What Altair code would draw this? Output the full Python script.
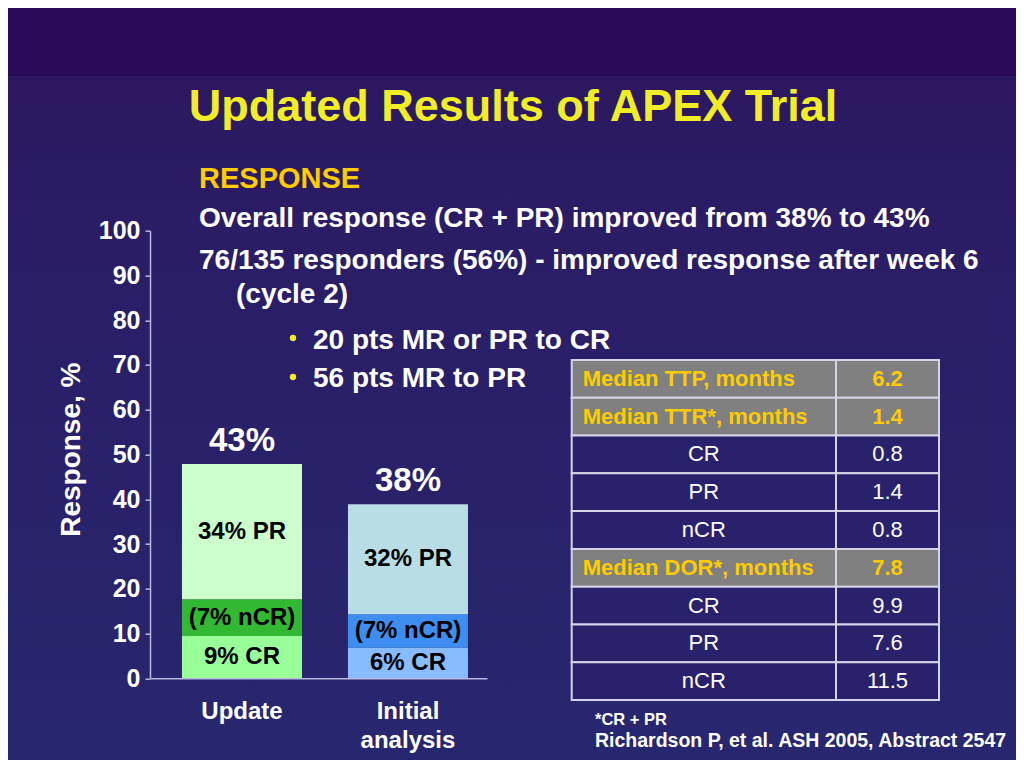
import altair as alt
import pandas as pd

# ---------------- data ----------------
categories = ["Update", "Initial analysis"]
cr_values = [9.45, 6.9]
ncr_values = [8.2, 7.4]
pr_values = [30.25, 24.6]
cr_labels = ["9% CR", "6% CR"]
ncr_labels = ["(7% nCR)", "(7% nCR)"]
pr_labels = ["34% PR", "32% PR"]
total_labels = ["43%", "38%"]
y_ticks = [0, 10, 20, 30, 40, 50, 60, 70, 80, 90, 100]

table_labels = ["Median TTP, months", "Median TTR*, months", "CR", "PR", "nCR",
                "Median DOR*, months", "CR", "PR", "nCR"]
table_values = ["6.2", "1.4", "0.8", "1.4", "0.8", "7.8", "9.9", "7.6", "11.5"]
table_header = [True, True, False, False, False, True, False, False, False]

title_text = "Updated Results of APEX Trial"
heading_text = "RESPONSE"
body_lines = ["Overall response (CR + PR) improved from 38% to 43%",
              "76/135 responders (56%) - improved response after week 6",
              "(cycle 2)"]
bullet_lines = ["20 pts MR or PR to CR", "56 pts MR to PR"]
footnote_text = "*CR + PR"
citation_text = "Richardson P, et al. ASH 2005, Abstract 2547"

FONT = "Liberation Sans, Arial, Helvetica, sans-serif"
WHITE = "#ffffff"
GOLD = "#ffcc00"
YELLOW = "#f2ee26"
AXIS_COL = "#b8b8e0"

# plot origin in page coordinates
OX, OY = 150, 230.7
def px(X):
    return X - OX
def py(Y):
    return Y - OY

# ---------------- bar data ----------------
rows = []
for i, c in enumerate(categories):
    for order, (seg, vals, labs) in enumerate([("CR", cr_values, cr_labels),
                                               ("nCR", ncr_values, ncr_labels),
                                               ("PR", pr_values, pr_labels)]):
        rows.append({"category": c, "segment": seg, "key": f"{c}|{seg}",
                     "value": vals[i], "label": labs[i], "order": order,
                     "total_label": total_labels[i]})
bars_df = pd.DataFrame(rows)

color_domain = [f"{c}|{s}" for c in categories for s in ["CR", "nCR", "PR"]]
color_range = ["#99ff99", "#33b833", "#ccffcc", "#88bbff", "#3d8ef0", "#b9dde5"]

x_scale = alt.Scale(domain=categories, paddingInner=0.277, paddingOuter=0.1536, align=0.627)
x_axis = alt.Axis(title=None, labelAngle=0, ticks=False, tickSize=0, labelPadding=21,
                  labelColor=WHITE, labelFont=FONT, labelFontSize=24, labelFontWeight="bold",
                  labelLineHeight=29.5, labelExpr="split(datum.label, ' ')",
                  domainColor=AXIS_COL, domainWidth=1.5, zindex=1)
y_scale = alt.Scale(domain=[0, 100], nice=False, zero=True)
y_axis = alt.Axis(values=y_ticks, grid=False, tickSize=5, tickWidth=1.5, tickColor=AXIS_COL,
                  domainColor=AXIS_COL, domainWidth=1.5, labelColor=WHITE, labelFont=FONT,
                  labelFontSize=25, labelFontWeight="bold", labelPadding=5,
                  title="Response, %", titleFont=FONT, titleFontSize=28, titleFontWeight="bold",
                  titleColor=WHITE, titleAngle=270, titleX=-71, titleY=218.5,
                  titleAlign="center", titleBaseline="alphabetic", zindex=1)

def xenc():
    return alt.X("category:N", sort=categories, scale=x_scale, axis=x_axis)

base = alt.Chart(bars_df).transform_stack(
    stack="value", groupby=["category"],
    sort=[alt.SortField("order", order="ascending")], as_=["y0", "y1"])

bars = base.mark_bar().encode(
    x=xenc(),
    y=alt.Y("y0:Q", scale=y_scale, axis=y_axis),
    y2="y1:Q",
    color=alt.Color("key:N", scale=alt.Scale(domain=color_domain, range=color_range), legend=None),
)

seg_text = base.transform_calculate(mid="(datum.y0 + datum.y1) / 2").mark_text(
    font=FONT, fontSize=24, fontWeight="bold", color="#000000", baseline="middle"
).encode(
    x=xenc(),
    y=alt.Y("mid:Q", scale=y_scale, axis=y_axis),
    text="label:N",
)

tot_text = alt.Chart(bars_df).transform_aggregate(
    total="sum(value)", groupby=["category", "total_label"]
).mark_text(font=FONT, fontSize=33, fontWeight="bold", color=WHITE,
            baseline="alphabetic", dy=-13).encode(
    x=xenc(),
    y=alt.Y("total:Q", scale=y_scale, axis=y_axis),
    text="total_label:N",
)

bar_layer = alt.layer(bars, seg_text, tot_text)

# ---------------- table ----------------
trows = []
for r in range(len(table_labels)):
    for col, txt_ in enumerate([table_labels[r], table_values[r]]):
        trows.append({"row": r, "col": col, "text": txt_, "header": table_header[r]})
table_df = pd.DataFrame(trows)

tx_scale = alt.Scale(domain=[0, 1, 2], range=[px(571.7), px(836), px(939)], nice=False, zero=False)
ty_scale = alt.Scale(domain=[0, 9], range=[py(360), py(700)], nice=False, zero=False)

tbase = alt.Chart(table_df).transform_calculate(
    c1="datum.col + 1", r1="datum.row + 1", cx="datum.col + 0.5", cy="datum.row + 0.5")

cells = tbase.mark_rect(stroke="#d4d4e4", strokeWidth=2).encode(
    x=alt.X("col:Q", scale=tx_scale, axis=None),
    x2="c1:Q",
    y=alt.Y("row:Q", scale=ty_scale, axis=None),
    y2="r1:Q",
    fill=alt.condition("datum.header", alt.value("#808080"), alt.value("#29216c")),
)

hdr_label = tbase.transform_filter("datum.header && datum.col == 0").mark_text(
    font=FONT, fontSize=22, fontWeight="bold", color=GOLD, align="left", baseline="middle", dx=11
).encode(
    x=alt.X("col:Q", scale=tx_scale, axis=None),
    y=alt.Y("cy:Q", scale=ty_scale, axis=None),
    text="text:N",
)
hdr_value = tbase.transform_filter("datum.header && datum.col == 1").mark_text(
    font=FONT, fontSize=22, fontWeight="bold", color=GOLD, align="center", baseline="middle"
).encode(
    x=alt.X("cx:Q", scale=tx_scale, axis=None),
    y=alt.Y("cy:Q", scale=ty_scale, axis=None),
    text="text:N",
)
body_cells = tbase.transform_filter("!datum.header").mark_text(
    font=FONT, fontSize=22, fontWeight="normal", color=WHITE, align="center", baseline="middle"
).encode(
    x=alt.X("cx:Q", scale=tx_scale, axis=None),
    y=alt.Y("cy:Q", scale=ty_scale, axis=None),
    text="text:N",
)

table_layer = alt.layer(cells, hdr_label, hdr_value, body_cells)

# ---------------- background & slide text ----------------
one = pd.DataFrame({"a": [0]})
bg_top = alt.Chart(one).mark_rect(color="#2b0b59").encode(
    x=alt.value(px(8)), x2=alt.value(px(1016)), y=alt.value(py(8)), y2=alt.value(py(76)))
bg_main = alt.Chart(one).mark_rect(color={
    "gradient": "linear", "x1": 0, "x2": 0, "y1": 0, "y2": 1,
    "stops": [{"offset": 0, "color": "#2c1860"}, {"offset": 0.25, "color": "#2a1d66"},
              {"offset": 1, "color": "#27276f"}]}).encode(
    x=alt.value(px(8)), x2=alt.value(px(1016)), y=alt.value(py(76)), y2=alt.value(py(760)))

def txt(t, X, Y, size, color, weight="bold", align="left"):
    return alt.Chart(pd.DataFrame({"t": [t]})).mark_text(
        font=FONT, fontSize=size, fontWeight=weight, color=color, align=align,
        baseline="alphabetic").encode(x=alt.value(px(X)), y=alt.value(py(Y)), text="t:N")

def dot(X, Y):
    return alt.Chart(one).mark_point(shape="circle", filled=True, size=40, color=YELLOW,
                                     opacity=1).encode(x=alt.value(px(X)), y=alt.value(py(Y)))

texts = [
    txt(title_text, 513, 120.5, 45, YELLOW, align="center"),
    txt(heading_text, 199, 188.3, 29, GOLD),
    txt(body_lines[0], 199, 227, 28, WHITE),
    txt(body_lines[1], 199, 269, 28, WHITE),
    txt(body_lines[2], 236, 303, 28, WHITE),
    dot(293, 338), txt(bullet_lines[0], 313, 349, 28, WHITE),
    dot(293, 377), txt(bullet_lines[1], 313, 387, 28, WHITE),
    txt(footnote_text, 595, 725, 16.5, WHITE),
    txt(citation_text, 595, 747, 19.5, WHITE),
]

chart = alt.layer(bg_top, bg_main, bar_layer, table_layer, *texts).resolve_scale(
    x="independent", y="independent", color="independent"
).properties(
    width=337, height=447.6,
    padding={"left": OX - 8, "top": OY - 8, "right": 1016 - OX - 337,
             "bottom": 760 - OY - 447.6},
    autosize=alt.AutoSizeParams(type="none"),
).configure(background="#2a1f68").configure_view(stroke=None)

chart.save("out.html", embed_options={"renderer": "svg", "actions": False})
